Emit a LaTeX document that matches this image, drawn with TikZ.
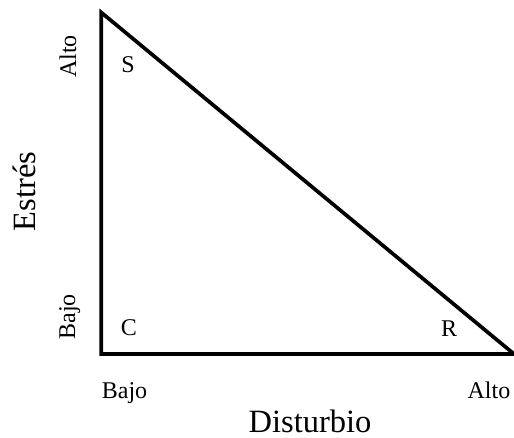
\documentclass[tikz,border=0pt]{standalone}
\usepackage{fontspec}
\setmainfont{Liberation Serif}
\begin{document}
\begin{tikzpicture}[x=1pt,y=-1pt,
  lab/.style={font=\fontsize{24}{24}\selectfont,inner sep=0pt},
  axlab/.style={font=\fontsize{32.5}{32.5}\selectfont,inner sep=0pt}]
\useasboundingbox (0,0) rectangle (514,438);
\coordinate (top) at (101.3,12.5);
\coordinate (corner) at (101.3,354);
\coordinate (right) at (514,354);
\draw[line width=3.7pt, line join=miter] (top) -- (corner) -- (right) -- cycle;
\node[lab] (s) at (128,65) {S};
\node[lab] (c) at (129,328) {C};
\node[lab] (r) at (449,329) {R};
\node[lab, rotate=90, anchor=base] (altoy) at (76,56.5) {Alto};
\node[lab, rotate=90, anchor=base] (bajoy) at (75,317) {Bajo};
\node[lab, anchor=base] (bajox) at (124.5,398) {Bajo};
\node[lab, anchor=base] (altox) at (489,398) {Alto};
\node[axlab, anchor=base] (dist) at (310,432) {Disturbio};
\node[axlab, rotate=90, anchor=base] (estres) at (35,191.5) {Estrés};
\end{tikzpicture}
\end{document}
